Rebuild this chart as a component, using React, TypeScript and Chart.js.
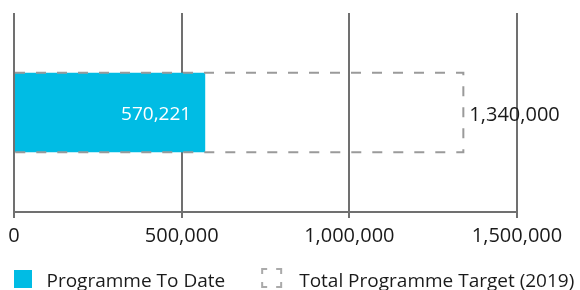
import React, { useEffect, useRef } from "react";
import { Chart, registerables } from "chart.js";

Chart.register(...registerables);

const categories = [""];
const seriesNames = ["Programme To Date", "Total Programme Target (2019)"];
const toDateValues = [570221];
const targetValues = [1340000];
const xTicks = [0, 500000, 1000000, 1500000];

const CYAN = "#00BCE4";
const DASH_GRAY = "#9a9a9a";
const ICON_GRAY = "#aaaaaa";
const GRID = "#707070";
const TEXT = "#1a1a1a";
const FONT = "'Open Sans'";

const fmt = (v: number) =>
  String(Math.round(v)).replace(/\B(?=(\d{3})+(?!\d))/g, ",");

const overlayPlugin = {
  id: "overlay",
  afterDatasetsDraw(chart: any) {
    const ctx = chart.ctx;
    const tMeta = chart.getDatasetMeta(1);
    tMeta.data.forEach((el: any, i: number) => {
      const left = Math.min(el.base, el.x);
      const right = Math.max(el.base, el.x);
      const top = el.y - el.height / 2;
      const bottom = el.y + el.height / 2;
      ctx.save();
      ctx.strokeStyle = DASH_GRAY;
      ctx.lineWidth = 2;
      ctx.setLineDash([10, 11]);
      ctx.beginPath();
      ctx.moveTo(left, top);
      ctx.lineTo(right, top);
      ctx.lineTo(right, bottom);
      ctx.lineTo(left, bottom);
      ctx.stroke();
      ctx.restore();
      ctx.save();
      ctx.font = `20px ${FONT}`;
      ctx.fillStyle = TEXT;
      ctx.textAlign = "left";
      ctx.textBaseline = "middle";
      ctx.fillText(fmt(targetValues[i]), right + 6, el.y + 3);
      ctx.restore();
    });
    const dMeta = chart.getDatasetMeta(0);
    dMeta.data.forEach((el: any, i: number) => {
      ctx.save();
      ctx.font = `19px ${FONT}`;
      ctx.fillStyle = "#ffffff";
      ctx.textAlign = "right";
      ctx.textBaseline = "middle";
      ctx.fillText(fmt(toDateValues[i]), el.x - 14, el.y + 2.5);
      ctx.restore();
    });
  },
  afterDraw(chart: any) {
    const ctx = chart.ctx;
    const textY = 281.5;
    const iconTop = 270;
    const box = 18;
    ctx.save();
    ctx.font = `19px ${FONT}`;
    ctx.textBaseline = "middle";
    ctx.textAlign = "left";
    let x = chart.chartArea.left;
    seriesNames.forEach((name, i) => {
      if (i === 0) {
        ctx.fillStyle = CYAN;
        ctx.fillRect(x, iconTop, box, box);
        x += box + 14.5;
      } else {
        const w = 19, h = 18, a = 5;
        const x0 = x + 1, y0 = iconTop - 1;
        ctx.strokeStyle = ICON_GRAY;
        ctx.lineWidth = 2;
        ctx.beginPath();
        ctx.moveTo(x0, y0 + a); ctx.lineTo(x0, y0); ctx.lineTo(x0 + a, y0);
        ctx.moveTo(x0 + w - a, y0); ctx.lineTo(x0 + w, y0); ctx.lineTo(x0 + w, y0 + a);
        ctx.moveTo(x0 + w, y0 + h - a); ctx.lineTo(x0 + w, y0 + h); ctx.lineTo(x0 + w - a, y0 + h);
        ctx.moveTo(x0 + a, y0 + h); ctx.lineTo(x0, y0 + h); ctx.lineTo(x0, y0 + h - a);
        ctx.stroke();
        x += w + 19;
      }
      ctx.fillStyle = TEXT;
      ctx.fillText(name, x, textY);
      x += ctx.measureText(name).width + 36;
    });
    ctx.restore();
  },
};

export default function App() {
  const ref = useRef<HTMLCanvasElement | null>(null);
  useEffect(() => {
    if (!ref.current) return;
    const chart = new Chart(ref.current, {
      type: "bar",
      data: {
        labels: categories,
        datasets: [
          {
            label: seriesNames[0],
            data: toDateValues,
            backgroundColor: CYAN,
            borderWidth: 0,
            grouped: false,
            barPercentage: 0.4,
            categoryPercentage: 1,
          },
          {
            label: seriesNames[1],
            data: targetValues,
            backgroundColor: "rgba(0,0,0,0)",
            borderWidth: 0,
            grouped: false,
            barPercentage: 0.4,
            categoryPercentage: 1,
          },
        ],
      },
      options: {
        indexAxis: "y",
        responsive: false,
        animation: false,
        locale: "en-US",
        layout: { padding: { top: 13, left: 14, right: 63, bottom: 36 } },
        scales: {
          x: {
            type: "linear",
            min: xTicks[0],
            max: xTicks[xTicks.length - 1],
            afterBuildTicks: (s: any) => {
              s.ticks = xTicks.map((v) => ({ value: v }));
            },
            grid: {
              color: GRID,
              lineWidth: 2,
              drawTicks: true,
              tickLength: 6,
            },
            border: { display: true, color: GRID, width: 2 },
            ticks: {
              color: TEXT,
              font: { family: FONT, size: 20, lineHeight: 1.2 },
              padding: 6,
              maxRotation: 0,
              autoSkip: false,
              callback: (v: any) => fmt(Number(v)),
            },
          },
          y: {
            type: "category",
            display: false,
          },
        },
        plugins: {
          tooltip: { enabled: false },
          legend: { display: false },
        },
      },
      plugins: [overlayPlugin],
    } as any);
    return () => chart.destroy();
  }, []);
  return (
    <div
      style={{
        position: "fixed",
        left: 0,
        top: 0,
        width: 580,
        height: 290,
        overflow: "hidden",
        background: "#ffffff",
      }}
    >
      <canvas ref={ref} width={580} height={290} style={{ display: "block" }} />
    </div>
  );
}
